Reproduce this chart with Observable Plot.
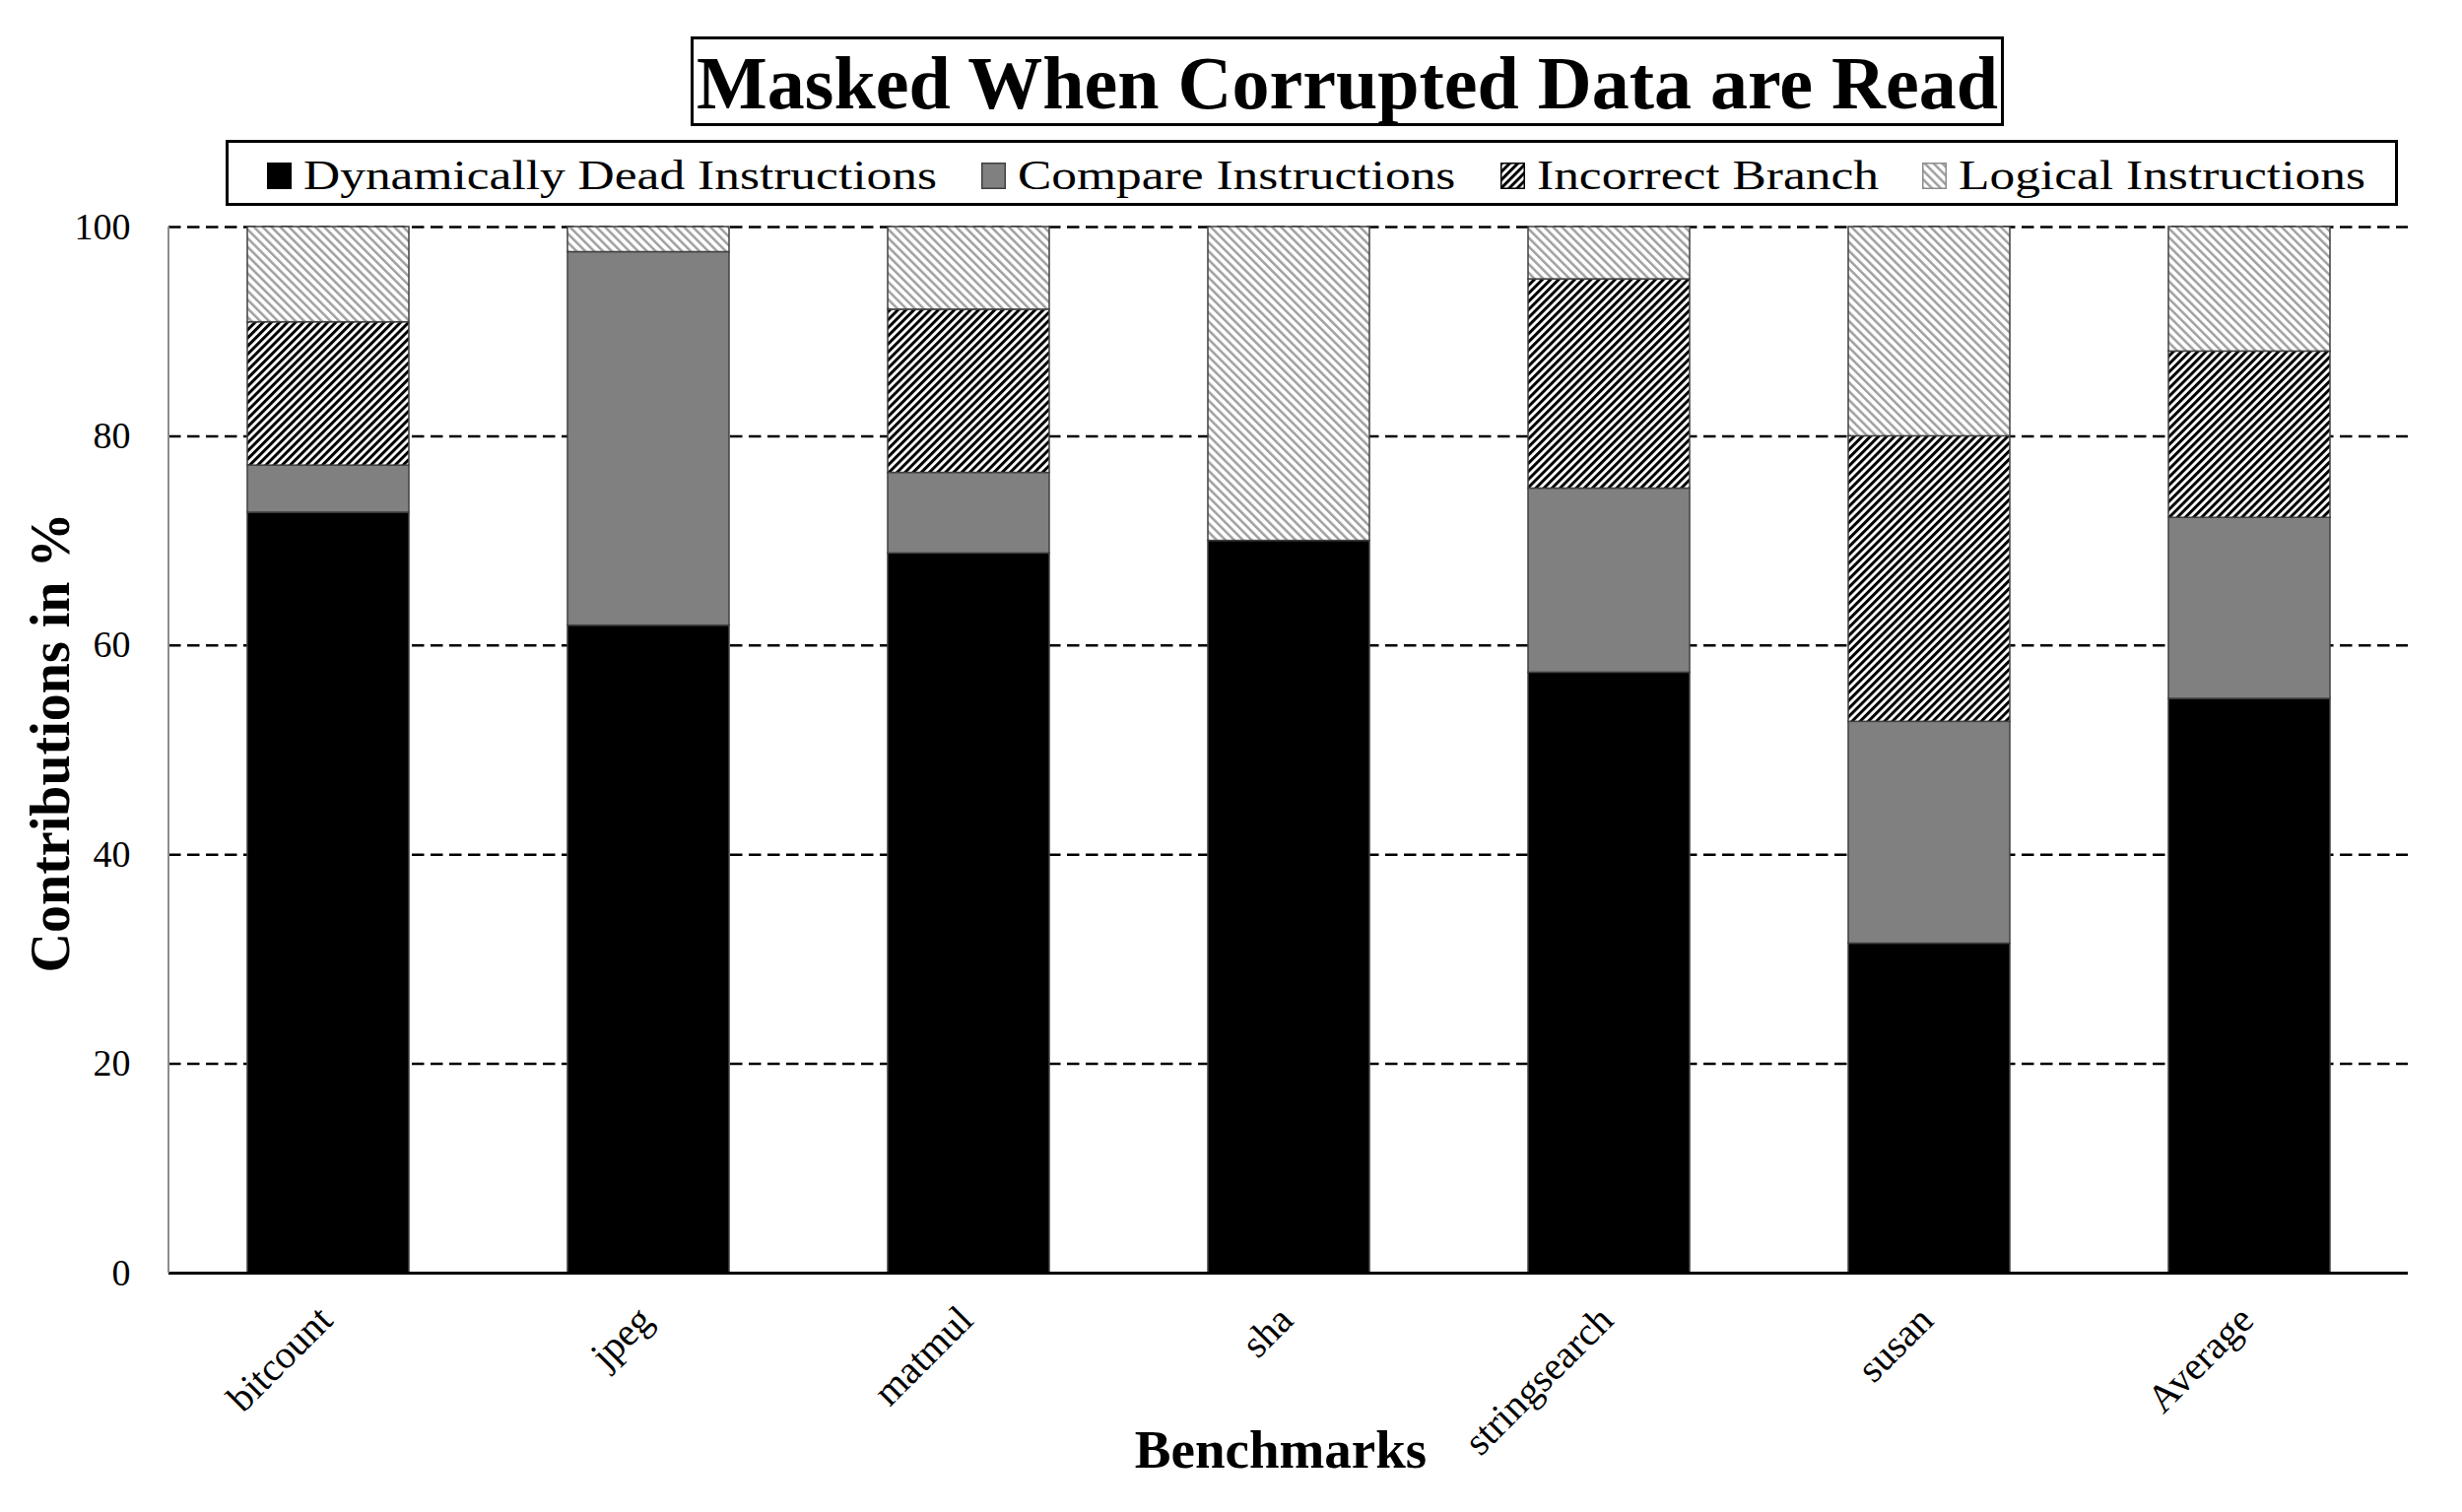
<!DOCTYPE html>
<html>
<head>
<meta charset="utf-8">
<script src="https://cdn.jsdelivr.net/npm/d3@7"></script>
<script src="https://cdn.jsdelivr.net/npm/@observablehq/plot@0.6"></script>
<style>
  body { margin: 0; background: #fff; font-family: 'Liberation Serif', 'Times New Roman', serif; color: #000; }
  #wrap { width: 2499px; position: relative; }
  #header { position: relative; height: 215px; }
  #title { position: absolute; left: 701px; top: 37px; width: 1333px; height: 91px; box-sizing: border-box;
           border: 3px solid #000; display: flex; align-items: center; justify-content: center;
           font-weight: bold; font-size: 76px; padding-top: 4px; white-space: nowrap; }
  #legend { position: absolute; left: 229px; top: 142px; width: 2205px; height: 67px; box-sizing: border-box;
            border: 3px solid #000; display: flex; align-items: center; padding-left: 39px; padding-top: 5px;
            font-size: 42px; white-space: nowrap; }
  .item { display: flex; align-items: center; margin-right: 45px; }
  .sw { width: 25px; height: 27px; margin-right: 12px; display: block; }
  .lab { display: inline-block; }
  .lab span { display: inline-block; transform: scaleX(1.225); transform-origin: 0 50%; }
</style>
</head>
<body>
<svg width="0" height="0" style="position:absolute">
  <defs>
    <pattern id="hatchBranch" patternUnits="userSpaceOnUse" width="5.8" height="5.8" patternTransform="rotate(45)">
      <rect width="5.8" height="5.8" fill="#fff"/>
      <rect width="3" height="5.8" fill="#000"/>
    </pattern>
    <pattern id="hatchLogical" patternUnits="userSpaceOnUse" width="6.3" height="6.3" patternTransform="rotate(-45)">
      <rect width="6.3" height="6.3" fill="#fff"/>
      <rect width="2.5" height="6.3" fill="#a0a0a0"/>
    </pattern>
  </defs>
</svg>
<div id="wrap">
  <div id="header"><div id="title"></div><div id="legend"></div></div>
  <div id="chart"></div>
</div>
<script>
// ---- data ----
const titleText = "Masked When Corrupted Data are Read";
const xLabel = "Benchmarks";
const yLabel = "Contributions in %";
const benchmarks = ["bitcount", "jpeg", "matmul", "sha", "stringsearch", "susan", "Average"];
const series = ["Dynamically Dead Instructions", "Compare Instructions", "Incorrect Branch", "Logical Instructions"];
const deadInstructions    = [72.7, 61.9, 68.8, 70.0, 57.4, 31.5, 54.9];
const compareInstructions = [4.5, 35.7, 7.7, 0, 17.6, 21.2, 17.3];
const incorrectBranch     = [13.7, 0, 15.6, 0, 20.0, 27.3, 15.9];
const logicalInstructions = [9.1, 2.4, 7.9, 30.0, 5.0, 20.0, 11.9];
const yTicks = [0, 20, 40, 60, 80, 100];

// ---- styling ----
const seriesFills = ["#000000", "#808080", "url(#hatchBranch)", "url(#hatchLogical)"];
const swatchStrokes = ["#000000", "#404040", "#000000", "#8c8c8c"];

const seriesValues = [deadInstructions, compareInstructions, incorrectBranch, logicalInstructions];
const rows = [];
series.forEach((s, si) => {
  seriesValues[si].forEach((v, bi) => {
    if (v > 0) rows.push({bench: benchmarks[bi], series: s, value: v});
  });
});

// title
document.getElementById("title").textContent = titleText;

// legend
const legend = document.getElementById("legend");
series.forEach((s, i) => {
  const item = document.createElement("div");
  item.className = "item";
  if (i === series.length - 1) item.style.marginRight = "0";
  const sw = d3.create("svg").attr("class", "sw").attr("width", 25).attr("height", 27);
  sw.append("rect").attr("x", 0.75).attr("y", 0.75).attr("width", 23.5).attr("height", 25.5)
    .attr("fill", seriesFills[i]).attr("stroke", swatchStrokes[i]).attr("stroke-width", 1.5);
  item.appendChild(sw.node());
  const lab = document.createElement("span");
  lab.className = "lab";
  const inner = document.createElement("span");
  inner.textContent = s;
  lab.appendChild(inner);
  item.appendChild(lab);
  legend.appendChild(item);
  lab.style.width = (inner.offsetWidth * 1.225) + "px";
});

function leftAxisLine(index, scales, values, dimensions) {
  const {marginLeft, marginTop, height, marginBottom} = dimensions;
  return d3.create("svg:line")
    .attr("x1", marginLeft).attr("x2", marginLeft)
    .attr("y1", marginTop).attr("y2", height - marginBottom)
    .attr("stroke", "#8c8c8c").attr("stroke-width", 2)
    .node();
}

const chart = Plot.plot({
  width: 2499,
  height: 1320,
  marginTop: 15,
  marginLeft: 171,
  marginRight: 55,
  marginBottom: 243,
  style: {fontFamily: "'Liberation Serif', 'Times New Roman', serif", fontSize: "38px", color: "#000", background: "#fff", overflow: "visible"},
  x: {domain: benchmarks, paddingInner: 0.4954, paddingOuter: 0.24, axis: null},
  y: {domain: [0, 100], axis: null},
  color: {domain: series, range: seriesFills},
  marks: [
    Plot.ruleY(yTicks.filter(t => t > 0), {stroke: "#000", strokeWidth: 2.5, strokeDasharray: "12.5,6.5"}),
    Plot.barY(rows, {x: "bench", y: "value", fill: "series", stroke: "#404040", strokeWidth: 1.5}),
    Plot.ruleY([0], {stroke: "#000", strokeWidth: 3}),
    leftAxisLine,
    Plot.axisY({ticks: yTicks, tickSize: 0, tickPadding: 39, fontSize: 38, label: null}),
    Plot.text(benchmarks, {x: d => d, text: d => d, frameAnchor: "bottom", rotate: -45, textAnchor: "end", dx: 6, dy: 50, fontSize: 40}),
    Plot.text([xLabel], {text: d => d, frameAnchor: "bottom", lineAnchor: "middle", textAnchor: "middle", dy: 180, dx: -8, fontSize: 55, fontWeight: "bold"}),
    Plot.text([yLabel], {text: d => d, frameAnchor: "left", lineAnchor: "middle", textAnchor: "middle", rotate: -90, dx: -119, dy: -7.5, fontSize: 56, fontWeight: "bold"})
  ]
});
document.getElementById("chart").appendChild(chart);
</script>
</body>
</html>
